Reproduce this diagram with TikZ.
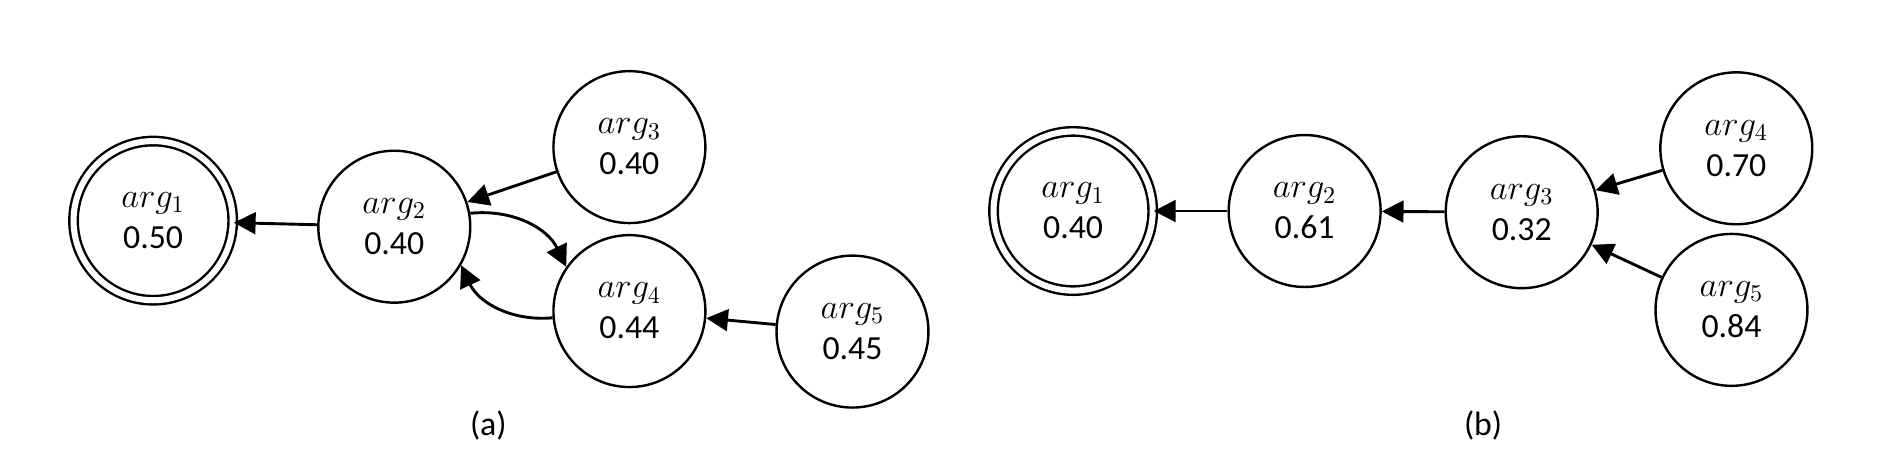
\documentclass[tikz,border=0pt]{standalone}
\usepackage{fontspec}
\setmainfont{Carlito}
\usetikzlibrary{arrows.meta}
\begin{document}
\begin{tikzpicture}[x=0.5pt,y=-0.5pt,
  arg/.style={circle,draw,line width=1pt,minimum size=63pt,inner sep=0pt,align=center,font=\fontsize{14}{17}\selectfont},
  argd/.style={arg,double,double distance=2.5pt,minimum size=66pt},
  att/.style={-{Triangle[length=9pt,width=9pt]},line width=1.2pt},
  lab/.style={font=\fontsize{14}{17}\rmfamily}]
\useasboundingbox (0,0) rectangle (1560,380);
\node[argd] (a1) at (127,183) {$arg_1$\\0.50};
\node[arg] (a2) at (327,188) {$arg_2$\\0.40};
\node[arg] (a3) at (522,122) {$arg_3$\\0.40};
\node[arg] (a4) at (522,258) {$arg_4$\\0.44};
\node[arg] (a5) at (707,275) {$arg_5$\\0.45};
\draw[att] (a2) -- (a1);
\draw[att] (a3) -- (a2);
\draw[att] (a5) -- (a4);
\draw[att] (a2.10) to[bend left=35] (a4.145);
\draw[att] (a4.185) to[bend left=35] (a2.-30);
\node[lab] (la) at (405,353) {(a)};
\node[argd] (b1) at (890,175) {$arg_1$\\0.40};
\node[arg] (b2) at (1082,175) {$arg_2$\\0.61};
\node[arg] (b3) at (1262,176) {$arg_3$\\0.32};
\node[arg] (b4) at (1440,123) {$arg_4$\\0.70};
\node[arg] (b5) at (1436,257) {$arg_5$\\0.84};
\draw[att] (b2) -- (b1);
\draw[att] (b3) -- (b2);
\draw[att] (b4) -- (b3);
\draw[att] (b5) -- (b3);
\node[lab] (lb) at (1230,353) {(b)};
\end{tikzpicture}
\end{document}
